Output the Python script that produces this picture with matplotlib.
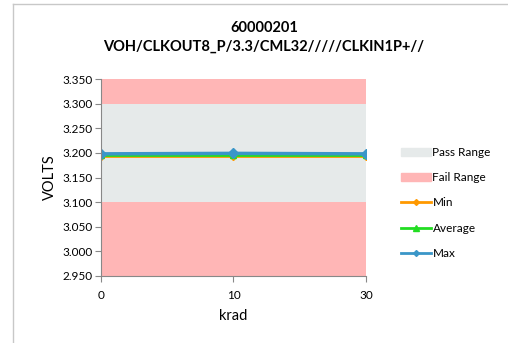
import numpy as np
import matplotlib.pyplot as plt
from matplotlib.lines import Line2D
from matplotlib.patches import Patch

plt.rcParams['font.family'] = ['Lato', 'DejaVu Sans']

krad = ['0', '10', '30']
v_min = [3.194, 3.194, 3.194]
v_avg = [3.195, 3.195, 3.195]
v_max = [3.198, 3.199, 3.198]
fail_lo = (2.950, 3.100)
pass_rng = (3.100, 3.300)
fail_hi = (3.300, 3.350)

fig = plt.figure(figsize=(5.08, 3.43), dpi=100)
ax = fig.add_axes([101 / 508, 1 - 276 / 343, 265 / 508, 197 / 343])

x = np.arange(len(krad))
ax.fill_between(x, fail_lo[0], fail_lo[1], color='#FFB6B6', lw=0)
ax.fill_between(x, pass_rng[0], pass_rng[1], color='#E6EAEA', lw=0)
ax.fill_between(x, fail_hi[0], fail_hi[1], color='#FFB6B6', lw=0)

ax.plot(x, v_min, color='#FF9900', lw=2, marker='D', ms=4)
ax.plot(x, v_avg, color='#22DD22', lw=2, marker='^', ms=5)
ax.plot(x, v_max, color='#3A96C8', lw=2.5, marker='D', ms=5)

ax.set_xlim(0, 2)
ax.set_ylim(2.95, 3.35)
ax.set_yticks(np.arange(2.95, 3.351, 0.05))
ax.set_yticklabels(['%.3f' % v for v in np.arange(2.95, 3.351, 0.05)])
ax.set_xticks(x)
ax.set_xticklabels(krad)
for s in ['top', 'right']:
    ax.spines[s].set_visible(False)
for s in ['left', 'bottom']:
    ax.spines[s].set_color('#888888')
ax.tick_params(labelsize=8.5, color='#888888', length=4, pad=6)
ax.tick_params(axis='y', pad=2)
ax.set_xlabel('krad', fontsize=10.5, labelpad=6)
ax.set_ylabel('VOLTS', fontsize=10.5, labelpad=4)

fig.text(0.5195, 1 - 37 / 343, '60000201\nVOH/CLKOUT8_P/3.3/CML32/////CLKIN1P+//',
         ha='center', va='center', fontsize=10.5, fontweight='bold', linespacing=1.4)

handles = [
    Patch(color='#E6EAEA', label='Pass Range'),
    Patch(color='#FFB6B6', label='Fail Range'),
    Line2D([], [], color='#FF9900', lw=2, marker='D', ms=3, label='Min'),
    Line2D([], [], color='#22DD22', lw=2, marker='^', ms=4, label='Average'),
    Line2D([], [], color='#3A96C8', lw=2, marker='D', ms=3, label='Max'),
]
fig.legend(handles=handles, loc='center left', bbox_to_anchor=(390 / 508, 1 - 203 / 343),
           frameon=False, fontsize=8.5, handlelength=2.6, handletextpad=0.1,
           labelspacing=1.2)

fig.add_artist(Line2D([13 / 508, 13 / 508], [0, 1 - 4 / 343], color='#C8C8C8', lw=1))
fig.add_artist(Line2D([13 / 508, 1], [1 - 4 / 343, 1 - 4 / 343], color='#C8C8C8', lw=1))

fig.savefig('out.png', dpi=100)
